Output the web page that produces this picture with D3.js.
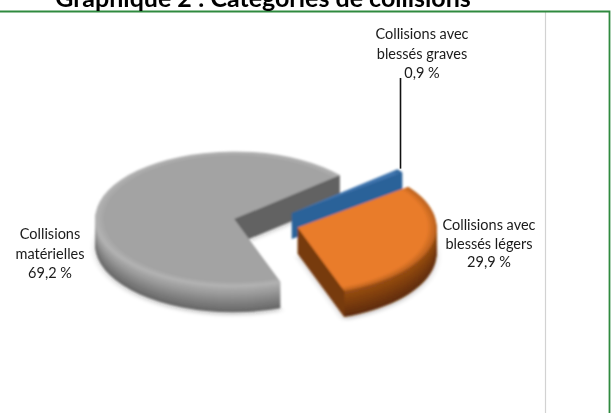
<!DOCTYPE html>
<html lang="fr">
<head>
    <meta charset="UTF-8">
    <title>Graphique 2 : Catégories de collisions</title>
    <script src="https://d3js.org/d3.v7.min.js"></script>
    <style>
        html, body { margin: 0; padding: 0; background: #fff; overflow: hidden; }
        text { font-family: Lato, "Open Sans", sans-serif; fill: #1a1a1a; }
    </style>
</head>
<body>
    <div id="chart"></div>

    <script>
        // Values
        const chartTitle = "Graphique 2 : Catégories de collisions";
        const categories = ["Collisions avec blessés graves", "Collisions avec blessés légers", "Collisions matérielles"];
        const shares = [0.9, 29.9, 69.2];
        const shareLabels = ["0,9 %", "29,9 %", "69,2 %"];
        const labelLines = [
            ["Collisions avec", "blessés graves"],
            ["Collisions avec", "blessés légers"],
            ["Collisions", "matérielles"]
        ];

        const width = 611, height = 413;

        // Pie settings: tilted and exploded like the office 3D pie
        const center = {x: 266, y: 223};
        const radius = 139, squash = 0.485, depth = 26, explode = 33;
        const firstAngle = 49.5 * Math.PI / 180;

        // top colour, rim colour, wall top, wall bottom, flat cut face
        const looks = [
            {top: "#3f75ae", rim: "#2f6399", wallA: "#3a6ea6", wallB: "#27588c", cut: "#2c6299"},
            {top: "#e97c2a", rim: "#b9601d", wallA: "#9a4f14", wallB: "#5f2c08", cut: "#773a0f"},
            {top: "#a3a3a3", rim: "#b4b4b4", wallA: "#b2b2b2", wallB: "#666666", cut: "#626262"}
        ];

        // label positions, leader only for the thin slice
        const labelPos = [{x: 422, y: 39}, {x: 489, y: 230}, {x: 50, y: 239}];
        const lineStep = [19.5, 18.5, 19.5];

        const svg = d3.select("#chart")
            .append("svg")
            .attr("width", width)
            .attr("height", height)
            .style("display", "block");

        const defs = svg.append("defs");
        defs.append("filter").attr("id", "soft")
            .attr("x", "-10%").attr("y", "-10%").attr("width", "120%").attr("height", "120%")
            .append("feGaussianBlur").attr("stdDeviation", 0.8);
        defs.append("filter").attr("id", "shadow")
            .attr("x", "-20%").attr("y", "-20%").attr("width", "140%").attr("height", "140%")
            .append("feGaussianBlur").attr("stdDeviation", 3);
        defs.append("filter").attr("id", "textSoft")
            .attr("x", "-10%").attr("y", "-30%").attr("width", "120%").attr("height", "160%")
            .append("feGaussianBlur").attr("stdDeviation", 0.3);

        // Frame: green line on top and right only
        svg.append("line")
            .attr("x1", 545.5).attr("x2", 545.5).attr("y1", 12).attr("y2", height)
            .attr("stroke", "#d2d2d2").attr("stroke-width", 1.2);
        svg.append("path")
            .attr("d", `M0,11.5 H609.5 V${height}`)
            .attr("fill", "none").attr("stroke", "#2f8a3f").attr("stroke-width", 1.8);

        svg.append("text")
            .attr("x", 263).attr("y", 6.5)
            .attr("text-anchor", "middle")
            .attr("filter", "url(#textSoft)")
            .style("font-size", "25px").style("font-weight", 700).style("fill", "#000")
            .text(chartTitle);

        // Slices
        const pie = d3.pie().sort(null).startAngle(firstAngle).endAngle(firstAngle + 2 * Math.PI);
        const arcs = pie(shares).map((d, i) => {
            const mid = (d.startAngle + d.endAngle) / 2;
            return {
                ...d, i, name: categories[i],
                cx: center.x + explode * Math.sin(mid),
                cy: center.y - explode * Math.cos(mid) * squash
            };
        });

        const arcPath = d3.arc().innerRadius(0).outerRadius(radius);
        const rimPoint = (d, a) => [d.cx + radius * Math.sin(a), d.cy - radius * Math.cos(a) * squash];

        const pieG = svg.append("g").attr("filter", "url(#soft)");

        // Draw back to front: grey, blue, orange
        [2, 0, 1].forEach(i => {
            const d = arcs[i], look = looks[i];
            const g = pieG.append("g").attr("class", "slice").datum(d);

            g.append("path")
                .attr("d", arcPath(d))
                .attr("transform", `translate(${d.cx},${d.cy + depth + 3}) scale(1,${squash})`)
                .attr("fill", "#000").attr("opacity", i === 0 ? 0 : 0.18)
                .attr("filter", "url(#shadow)");

            // Extruded body: copies of the sector stacked downward
            const wallColor = d3.scaleLinear().domain([0, depth]).range([look.wallA, look.wallB]);
            d3.range(depth, 0, -1).forEach(k => {
                g.append("path")
                    .attr("d", arcPath(d))
                    .attr("transform", `translate(${d.cx},${d.cy + k}) scale(1,${squash})`)
                    .attr("fill", wallColor(k));
            });

            // Flat cut faces that look toward the viewer
            [d.startAngle, d.endAngle].forEach((a, side) => {
                const visible = side === 1 ? Math.sin(a) > 0 : Math.sin(a) < 0;
                if (!visible) return;
                const p = rimPoint(d, a);
                g.append("path")
                    .attr("d", d3.line()([[d.cx, d.cy], p, [p[0], p[1] + depth], [d.cx, d.cy + depth]]) + "Z")
                    .attr("fill", look.cut);
            });

            // Top surface with a soft bevel at the rim
            const gradId = `top${i}`;
            const grad = defs.append("radialGradient").attr("id", gradId)
                .attr("gradientUnits", "userSpaceOnUse")
                .attr("cx", 0).attr("cy", 0).attr("r", radius);
            grad.append("stop").attr("offset", "0%").attr("stop-color", look.top);
            grad.append("stop").attr("offset", "93%").attr("stop-color", look.top);
            grad.append("stop").attr("offset", "100%").attr("stop-color", look.rim);

            g.append("path")
                .attr("d", arcPath(d))
                .attr("transform", `translate(${d.cx},${d.cy}) scale(1,${squash})`)
                .attr("fill", `url(#${gradId})`);
        });

        // Leader line of the thin slice
        const leaderFrom = rimPoint(arcs[0], (arcs[0].startAngle + arcs[0].endAngle) / 2);
        svg.append("line")
            .attr("x1", 400.5).attr("x2", 400.5)
            .attr("y1", 78).attr("y2", leaderFrom[1] - 2)
            .attr("stroke", "#111").attr("stroke-width", 1.6);

        // Labels
        categories.forEach((c, i) => {
            const t = svg.append("text")
                .attr("text-anchor", "middle")
                .attr("filter", "url(#textSoft)")
                .style("font-size", "14.5px");
            labelLines[i].concat(shareLabels[i]).forEach((line, k) => {
                t.append("tspan")
                    .attr("x", labelPos[i].x)
                    .attr("y", labelPos[i].y + k * lineStep[i])
                    .text(line);
            });
        });
    </script>
</body>
</html>
